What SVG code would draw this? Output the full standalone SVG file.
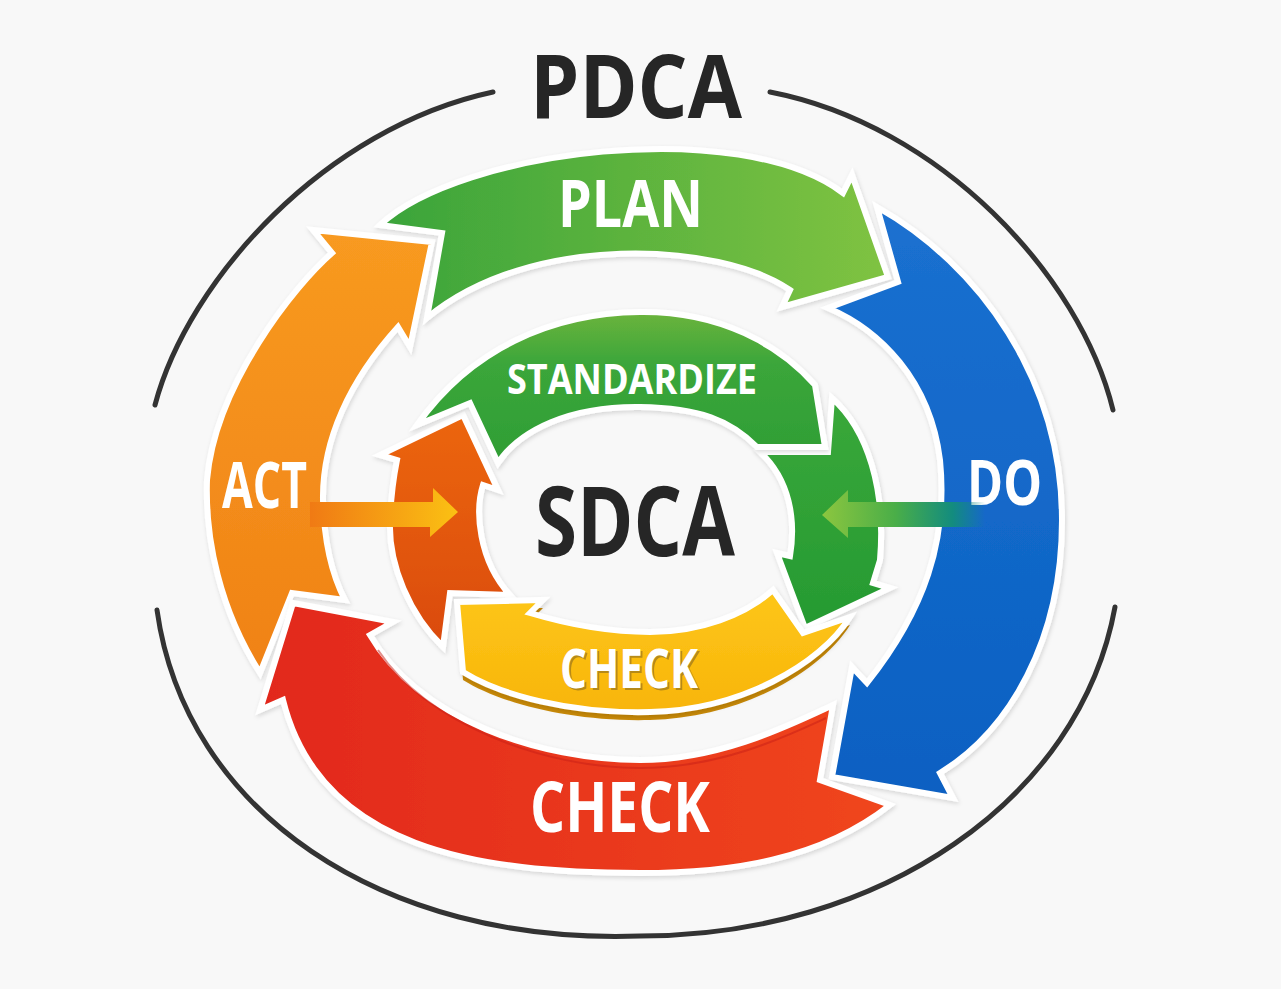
<svg xmlns="http://www.w3.org/2000/svg" width="1281" height="989" viewBox="0 0 1281 989">
<defs>
<linearGradient id="gPlan" gradientUnits="userSpaceOnUse" x1="380" y1="0" x2="890" y2="0"><stop offset="0" stop-color="#3aa43a"/><stop offset="1" stop-color="#80c342"/></linearGradient>
<linearGradient id="gDo" gradientUnits="userSpaceOnUse" x1="0" y1="207" x2="0" y2="800"><stop offset="0" stop-color="#1b70d0"/><stop offset="1" stop-color="#0a60c2"/></linearGradient>
<linearGradient id="gCheck" gradientUnits="userSpaceOnUse" x1="260" y1="0" x2="890" y2="0"><stop offset="0" stop-color="#e2281b"/><stop offset="1" stop-color="#f0461f"/></linearGradient>
<linearGradient id="gAct" gradientUnits="userSpaceOnUse" x1="0" y1="230" x2="0" y2="673"><stop offset="0" stop-color="#f89a20"/><stop offset="1" stop-color="#f08216"/></linearGradient>
<linearGradient id="gStd" gradientUnits="userSpaceOnUse" x1="0" y1="312" x2="0" y2="460"><stop offset="0" stop-color="#6cb43c"/><stop offset="0.35" stop-color="#3ba63a"/><stop offset="1" stop-color="#2f9e35"/></linearGradient>
<linearGradient id="gSdo" gradientUnits="userSpaceOnUse" x1="0" y1="398" x2="0" y2="628"><stop offset="0" stop-color="#3aa83a"/><stop offset="1" stop-color="#259a32"/></linearGradient>
<linearGradient id="gSact" gradientUnits="userSpaceOnUse" x1="0" y1="415" x2="0" y2="647"><stop offset="0" stop-color="#ec6611"/><stop offset="1" stop-color="#da4a0e"/></linearGradient>
<linearGradient id="gYel" gradientUnits="userSpaceOnUse" x1="0" y1="600" x2="0" y2="712"><stop offset="0" stop-color="#fdc516"/><stop offset="1" stop-color="#f8b50c"/></linearGradient>
<linearGradient id="gArrowL" gradientUnits="userSpaceOnUse" x1="310" y1="0" x2="458" y2="0"><stop offset="0" stop-color="#f07a14"/><stop offset="1" stop-color="#fbc113"/></linearGradient>
<linearGradient id="gArrowR" gradientUnits="userSpaceOnUse" x1="822" y1="0" x2="985" y2="0"><stop offset="0" stop-color="#8cc63f"/><stop offset="0.45" stop-color="#4aae48"/><stop offset="0.8" stop-color="#138c7e"/><stop offset="1" stop-color="#138c7e" stop-opacity="0"/></linearGradient>
<filter id="sh" x="-10%" y="-10%" width="120%" height="130%"><feDropShadow dx="1" dy="2" stdDeviation="2" flood-color="#000" flood-opacity="0.14"/></filter>
</defs>
<style>
.ring{fill:none;stroke:#333;stroke-width:5;stroke-linecap:round}
.arrow{stroke:#fff;stroke-width:6;stroke-linejoin:miter;filter:url(#sh)}
.lbl{font-family:"Open Sans","Liberation Sans",sans-serif;font-weight:700;fill:#fff}
.dark{font-family:"Open Sans","Liberation Sans",sans-serif;font-weight:700;fill:#262626}
</style>
<rect width="1281" height="989" fill="#f8f8f8"/>

<g id="outer-ring">
<path class="ring" d="M493,92 C325,128 188,280 155,405"/>
<path class="ring" d="M770,92 C940,125 1080,275 1113,410"/>
<path class="ring" d="M157,610 C185,810 380,945 640,936 C880,936 1080,800 1115,607"/>
<text class="dark" x="530" y="118" font-size="88" textLength="212" lengthAdjust="spacingAndGlyphs">PDCA</text>
</g>

<g id="act">
<path class="arrow" fill="url(#gAct)" d="M332,253 L313,230 L432,242 L410,347 L398,327 C350,380 322,440 323,500 C324,540 332,575 345,600 L292,593 L260,673 C220,610 205,540 207,480 C215,385 295,285 332,253 Z"/>
<text class="lbl" x="222" y="508" font-size="64" textLength="85" lengthAdjust="spacingAndGlyphs">ACT</text>
</g>

<g id="plan">
<path class="arrow" fill="url(#gPlan)" d="M380,225 C460,150 740,115 843,193 L852,175 L888,277 L782,307 L790,290 C720,242 530,232 427,318 L442,233 Z"/>
<text class="lbl" x="558" y="227" font-size="67" textLength="145" lengthAdjust="spacingAndGlyphs">PLAN</text>
</g>

<g id="do">
<path class="arrow" fill="url(#gDo)" d="M877,207 C980,265 1062,380 1062,520 C1062,640 1010,730 940,773 L953,798 L832,777 L852,667 L867,683 C925,610 948,540 940,460 C930,380 880,330 828,308 L898,282 Z"/>
<text class="lbl" x="967" y="505" font-size="63" textLength="75" lengthAdjust="spacingAndGlyphs">DO</text>
</g>

<g id="check">
<path class="arrow" fill="url(#gCheck)" d="M293,603 L393,622 L370,635 C420,720 540,760 640,760 C720,760 790,725 833,705 L820,780 L890,805 C820,860 730,873 640,873 C480,873 320,850 283,700 L260,710 Z"/>
<path fill="none" stroke="#c81e16" stroke-width="2" opacity="0.5" d="M378,650 C428,725 545,768 640,768 C720,768 785,737 826,718"/>
<text class="lbl" x="530" y="832" font-size="70" textLength="180" lengthAdjust="spacingAndGlyphs">CHECK</text>
</g>

<g id="sdca-act">
<path class="arrow" fill="url(#gSact)" d="M463,415 L498,490 L483,485 C475,510 478,560 510,595 L450,593 L443,647 C410,615 388,565 390,520 C391,495 394,475 397,460 L380,455 Z"/>
</g>

<g id="sdca-do">
<path class="arrow" fill="url(#gSdo)" d="M760,452 L828,452 L832,398 C868,430 886,490 880,560 L873,583 L890,588 L805,628 L777,553 L790,556 C796,520 790,480 760,452 Z"/>
</g>

<g id="standardize">
<path class="arrow" fill="url(#gStd)" d="M417,425 C470,350 550,313 640,312 C720,311 780,345 815,385 L825,447 L757,447 C730,420 700,408 640,407 C570,406 520,430 498,463 L470,403 Z"/>
<text class="lbl" x="507" y="394" font-size="42" textLength="250" lengthAdjust="spacingAndGlyphs">STANDARDIZE</text>
</g>

<g id="sdca-check">
<path fill="#c98a08" d="M457,610 L543,608 L530,621 C570,633 610,640 650,640 C700,640 745,623 773,598 L803,641 L850,625 C820,673 740,718 650,720 C570,722 500,703 463,680 Z"/>
<path class="arrow" fill="url(#gYel)" d="M457,602 L543,600 L530,613 C570,625 610,632 650,632 C700,632 745,615 773,590 L803,633 L850,617 C820,665 740,710 650,712 C570,714 500,695 463,672 Z"/>
<text x="562" y="690" font-size="53" textLength="138" lengthAdjust="spacingAndGlyphs" style="font-family:'Open Sans','Liberation Sans',sans-serif;font-weight:700;fill:#8a6a20;opacity:0.6">CHECK</text>
<text class="lbl" x="560" y="688" font-size="53" textLength="138" lengthAdjust="spacingAndGlyphs">CHECK</text>
</g>

<g id="center">
<text class="dark" x="535" y="556" font-size="97" textLength="200" lengthAdjust="spacingAndGlyphs">SDCA</text>
</g>

<g id="connectors">
<path fill="url(#gArrowL)" d="M310,502 L433,502 L433,488 L458,512 L430,537 L430,527 L310,527 Z"/>
<path fill="url(#gArrowR)" d="M985,502 L848,502 L848,490 L822,515 L848,538 L848,527 L985,527 Z"/>
</g>
</svg>
